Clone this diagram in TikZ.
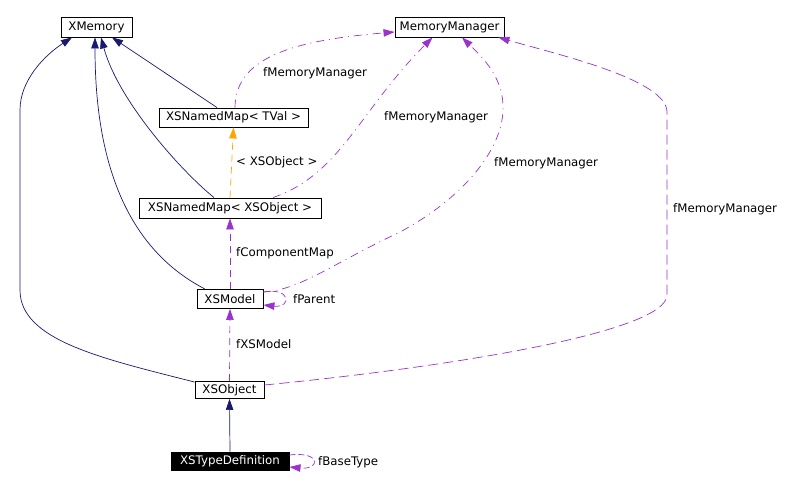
\documentclass[tikz,border=0pt]{standalone}
\usepackage{fontspec}
\setmainfont{DejaVu Sans}
\usetikzlibrary{arrows.meta}
\definecolor{navy}{HTML}{191970}
\definecolor{purp}{HTML}{9A32CD}
\definecolor{orng}{HTML}{FFA500}
\begin{document}
\begin{tikzpicture}[x=1pt,y=-1pt,
  cls/.style={draw=black,line width=0.9pt,inner sep=0pt,font=\fontsize{11.8}{13}\selectfont},
  lbl/.style={inner sep=0pt,anchor=west,font=\fontsize{11.8}{13}\selectfont},
  tip/.style={-{Triangle[length=11pt,width=7.5pt]}},
  inh/.style={tip,draw=navy,line width=0.7pt},
  usem/.style={tip,draw=purp,line width=0.7pt,dash pattern=on 7pt off 5pt},
  usedd/.style={tip,draw=purp,line width=0.7pt,dash pattern=on 8pt off 5pt on 1pt off 5pt},
  tmpl/.style={tip,draw=orng,line width=0.7pt,dash pattern=on 7pt off 5pt}]
\useasboundingbox (0,0) rectangle (788,489);
\node[cls,minimum width=71pt,minimum height=20pt] (xm) at (96.5,27) {XMemory};
\node[cls,minimum width=109pt,minimum height=20pt] (mm) at (449.5,27) {MemoryManager};
\node[cls,minimum width=149pt,minimum height=19pt] (tv) at (233.5,117.5) {XSNamedMap< TVal >};
\node[cls,minimum width=182pt,minimum height=20pt] (nm) at (230,208) {XSNamedMap< XSObject >};
\node[cls,minimum width=66pt,minimum height=19pt] (md) at (230,299) {XSModel};
\node[cls,minimum width=69pt,minimum height=17pt] (ob) at (229.5,390) {XSObject};
\node[cls,fill=black,text=white,minimum width=118pt,minimum height=18pt] (td) at (230,461) {XSTypeDefinition};
% inheritance
\draw[inh] ([xshift=-16.5pt]tv.north) -- ([xshift=15.5pt]xm.south);
\draw[inh] ([xshift=-16pt]nm.north) .. controls (180,170) and (118,100) .. ([xshift=4.5pt]xm.south);
\draw[inh] ([xshift=-25pt]md.north) .. controls (120,245) and (95,150) .. ([xshift=-1.5pt]xm.south);
\draw[inh] ([yshift=-1pt]ob.north west) .. controls (100,358) and (20,340) .. (20,290) -- (20,110) .. controls (20,80) and (45,55) .. ([xshift=-24.5pt]xm.south);
\draw[inh] (td.north) -- (ob.south);
% template
\draw[tmpl] (nm.north) -- (tv.south);
\node[lbl] (l1) at (236,162) {< XSObject >};
% usage
\draw[usem] (md.north) -- (nm.south);
\node[lbl] (l2) at (236,253) {fComponentMap};
\draw[usem] (ob.north) -- (md.south);
\node[lbl] (l3) at (236,344) {fXSModel};
\draw[usem,dash pattern=on 6pt off 3pt] ([yshift=7pt]md.east) .. controls (291,287) and (292,308) .. ([yshift=-6pt]md.east);
\node[lbl] (l4) at (293,299) {fParent};
\draw[usem,dash pattern=on 6pt off 3pt] ([yshift=6pt]td.east) .. controls (321,451) and (321,470) .. ([yshift=-6pt]td.east);
\node[lbl] (l5) at (318,462) {fBaseType};
\draw[usedd] ([xshift=1.5pt]tv.north) .. controls (235,55) and (300,40) .. ([yshift=-5pt]mm.west);
\node[lbl] (l6) at (263,73) {fMemoryManager};
\draw[usedd] ([xshift=43pt]nm.north) .. controls (340,175) and (360,110) .. ([xshift=-17pt]mm.south);
\node[lbl] (l7) at (384,117) {fMemoryManager};
\draw[usedd] ([yshift=7pt]md.east) .. controls (300,290) and (330,265) .. (400,232) .. controls (460,200) and (505,150) .. (503,105) .. controls (502,75) and (480,55) .. ([xshift=12.5pt]mm.south);
\node[lbl] (l8) at (494,163) {fMemoryManager};
\draw[usem,dash pattern=on 10pt off 5pt] ([yshift=5pt]ob.east) .. controls (450,367) and (667,332) .. (667,295) -- (667,112) .. controls (667,80) and (560,55) .. ([xshift=-6pt]mm.south east);
\node[lbl] (l9) at (673,209) {fMemoryManager};
\end{tikzpicture}
\end{document}
